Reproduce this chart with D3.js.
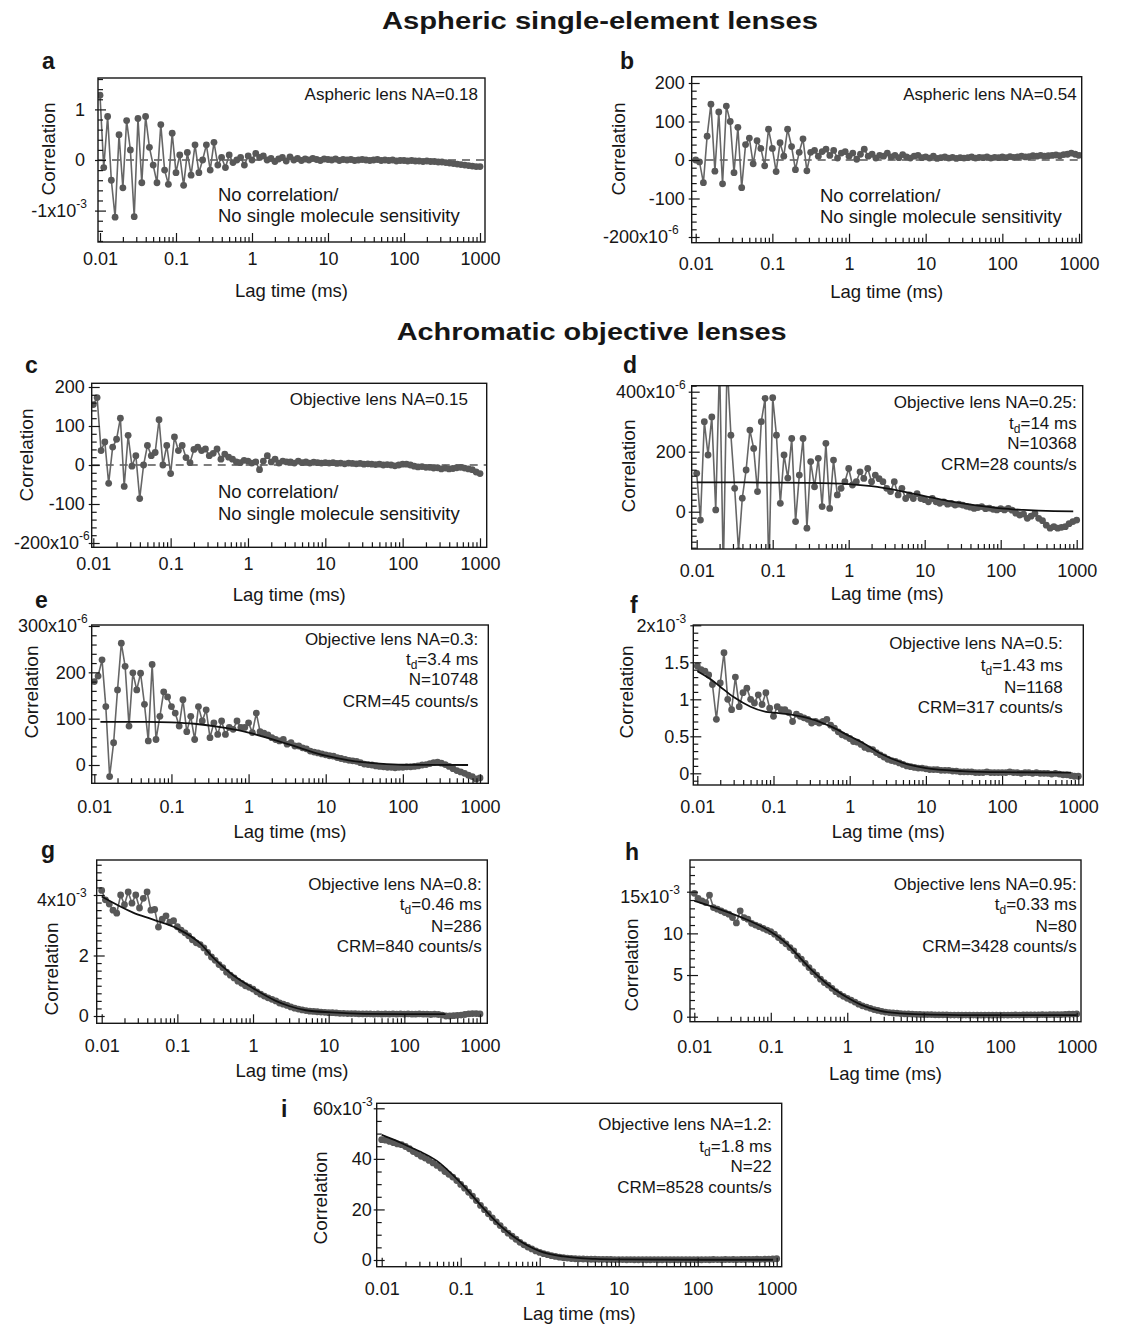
<!DOCTYPE html>
<html>
<head>
<meta charset="utf-8">
<script src="https://cdn.jsdelivr.net/npm/d3@7"></script>
<style>
  body { margin: 0; background: #fff; }
  svg text { font-family: "Liberation Sans", Arial, Helvetica, sans-serif; }
</style>
</head>
<body>
<svg id="fig" width="1144" height="1327"></svg>
<script>
// Lag times (ms) shared by all correlation curves
const LAGS = [
  0.01, 0.0112, 0.0126, 0.0141, 0.0158, 0.0178, 0.02, 0.0224, 0.0251, 0.0282,
  0.0316, 0.0355, 0.0398, 0.0447, 0.0501, 0.0562, 0.0631, 0.0708, 0.0794, 0.0891,
  0.1, 0.112, 0.126, 0.141, 0.158, 0.178, 0.2, 0.224, 0.251, 0.282,
  0.316, 0.355, 0.398, 0.447, 0.501, 0.562, 0.631, 0.708, 0.794, 0.891,
  1, 1.12, 1.26, 1.41, 1.58, 1.78, 2, 2.24, 2.51, 2.82,
  3.16, 3.55, 3.98, 4.47, 5.01, 5.62, 6.31, 7.08, 7.94, 8.91,
  10, 11.2, 12.6, 14.1, 15.8, 17.8, 20, 22.4, 25.1, 28.2,
  31.6, 35.5, 39.8, 44.7, 50.1, 56.2, 63.1, 70.8, 79.4, 89.1,
  100, 112, 126, 141, 158, 178, 200, 224, 251, 282,
  316, 355, 398, 447, 501, 562, 631, 708, 794, 891,
  1000
];

// a: aspheric NA=0.18 (x1e-3)
const corrA = [
  1.28, -0.15, 0.86, -0.4, -1.13, 0.5, -0.55, 0.78, 0.2, -1.12,
  0.82, -0.45, 0.86, 0.25, -0.1, -0.45, 0.7, -0.2, -0.48, 0.53,
  -0.25, 0.1, -0.5, 0.15, -0.3, 0.3, -0.25, 0.0, 0.3, -0.2,
  0.35, -0.1, 0.05, -0.15, 0.1, -0.05, 0.0, 0.05, -0.1, 0.08,
  0.0, 0.13, 0.05, 0.08, 0.0, 0.03, -0.03, 0.02, 0.05, -0.02,
  0.06, 0.0, 0.03, -0.01, 0.02, 0.0, 0.03, 0.01, -0.01, 0.02,
  0.01, 0.0, 0.02, -0.01, 0.01, 0.0, 0.01, -0.01, 0.0, 0.01,
  0.0, -0.01, 0.0, 0.01, -0.01, 0.0, -0.01, 0.0, -0.02, -0.01,
  -0.01, -0.02, -0.01, -0.02, -0.02, -0.03, -0.02, -0.03, -0.03, -0.04,
  -0.04, -0.05, -0.06, -0.07, -0.08, -0.09, -0.1, -0.11, -0.12, -0.13,
  -0.13
];

// b: aspheric NA=0.54 (x1e-6)
const corrB = [
  0, -5, -59, 62, 145, -29, 125, -62, 140, 100,
  -33, 85, -72, 40, 57, -10, 50, 30, -15, 80,
  30, -30, 45, 10, 80, 35, -25, 20, 55, -28,
  20, 25, 10, 22, 28, 12, 25, 5, 18, 22,
  10, 18, 2, 15, 28, 10, 15, 5, 12, 10,
  18, 8, 12, 6, 14, 8, 5, 10, 12, 6,
  8, 5, 10, 4, 6, 8, 5, 7, 4, 6,
  5, 6, 8, 5, 7, 6, 8, 5, 7, 6,
  8, 6, 9, 7, 8, 10, 8, 9, 11, 10,
  12, 10, 11, 12, 13, 11, 14, 15, 18, 15,
  12
];

// c: objective NA=0.15 (x1e-6)
const corrC = [
  155, 173, 37, 59, -47, 46, 66, 120, -55, 76,
  -3, 24, -86, 0, 50, 24, 32, 116, 0, 50,
  -22, 72, 37, 50, 19, 6, 40, 46, 37, 41,
  24, 30, 41, 15, 28, 20, 15, 8, 6, 12,
  10, 5, 8, -12, 10, 24, 8, 15, 5, 10,
  8, 8, 5, 10, 6, 8, 5, 7, 6, 5,
  6, 5, 6, 4, 5, 3, 5, 4, 3, 4,
  2, 3, 2, 1, 2, 0, 1, 0, -2, 0,
  2, 2, 0, -3, -5, -4, -6, -6, -8, -7,
  -10, -8, -10, -9, -7, -6, -8, -10, -12, -18,
  -22
];

// d: objective NA=0.25 (x1e-6)
const corrD = [
  128, -28, 300, 189, 316, 6, 500, -200, 500, 255,
  78, -130, 45, 139, 272, 211, 67, 300, 378, -200,
  380, 255, 28, 189, 112, 244, -33, 122, 244, -55,
  167, 83, 178, 17, 228, 11, 172, 56, 78, 100,
  144, 89, 100, 133, 111, 144, 100, 122, 110, 100,
  78, 67, 100, 56, 78, 44, 56, 44, 60, 44,
  40, 33, 44, 33, 28, 33, 25, 28, 22, 25,
  22, 18, 15, 11, 14, 17, 10, 12, 8, 6,
  10, 6, 11, 5, -5, -11, -8, -22, -15, -6,
  -22, -30, -45, -55, -50, -55, -52, -50, -40, -33,
  -28
];
const fitDLag = [0.01, 0.1, 0.3, 1, 2, 5, 10, 20, 50, 100, 200, 500, 900];
const fitDVal = [98, 97, 96, 92, 85, 68, 52, 36, 20, 11, 6, 2, 1];

// e: objective NA=0.3 (x1e-6)
const corrE = [
  180, 192, 227, 126, -25, 48, 162, 263, 213, 84,
  199, 162, 198, 131, 52, 217, 55, 105, 158, 147,
  126, 112, 84, 141, 72, 105, 55, 126, 95, 119,
  59, 91, 66, 95, 66, 81, 77, 95, 81, 81,
  91, 70, 112, 72, 69, 65, 59, 55, 52, 55,
  45, 48, 41, 41, 37, 35, 30, 28, 26, 24,
  22, 20, 19, 16, 14, 12, 10, 9, 8, 5,
  2, 1, 0, -2, -3, -4, -5, -5, -6, -5,
  -5, -4, -4, -3, -2, 0, 1, 3, 5, 6,
  4, 1, -3, -8, -12, -15, -18, -22, -25, -30,
  -28
];
const fitELag = [0.012, 0.05, 0.1, 0.2, 0.5, 1, 2, 5, 10, 20, 50, 100, 700];
const fitEVal = [93, 93, 92, 89, 80, 70, 56, 35, 20, 10, 3, 0.5, 0];

// f: objective NA=0.5 (x1e-3)
const corrF = [
  1.45, 1.40, 1.38, 1.33, 1.2, 0.73, 1.22, 1.63, 1.0, 0.86,
  1.3, 0.9, 1.09, 1.15, 1.0, 0.95, 1.06, 0.93, 1.09, 0.88,
  0.77, 0.9, 0.86, 0.86, 0.82, 0.7, 0.8, 0.77, 0.75, 0.73,
  0.68, 0.7, 0.68, 0.7, 0.73, 0.65, 0.61, 0.56, 0.52, 0.5,
  0.47, 0.43, 0.42, 0.39, 0.35, 0.33, 0.32, 0.28, 0.25, 0.22,
  0.19, 0.17, 0.16, 0.14, 0.12, 0.1, 0.09, 0.08, 0.07, 0.07,
  0.06, 0.05, 0.05, 0.05, 0.04, 0.04, 0.04, 0.03, 0.03, 0.02,
  0.02, 0.02, 0.02, 0.01, 0.01, 0.01, 0.02, 0.01, 0.01, 0.01,
  0.01, 0.01, 0.02, 0.01, 0.01, 0.0, 0.01, 0.01, 0.0, 0.01,
  0.0, 0.0, 0.0, -0.01, 0.0, -0.01, -0.02, -0.02, -0.03, -0.04,
  -0.04
];
const fitFLag = [0.01, 0.015, 0.02, 0.03, 0.05, 0.08, 0.1, 0.2, 0.3, 0.6, 1, 1.5, 2.5, 5, 10, 30, 100, 800];
const fitFVal = [1.38, 1.27, 1.17, 1.03, 0.9, 0.83, 0.82, 0.78, 0.74, 0.62, 0.5, 0.41, 0.27, 0.14, 0.07, 0.03, 0.015, 0.01];

// g: objective NA=0.8 (x1e-3)
const corrG = [
  4.15, 3.84, 3.7, 3.5, 3.4, 4.0, 3.68, 4.1, 3.73, 4.0,
  3.57, 3.89, 4.1, 3.5, 3.52, 2.94, 3.2, 3.31, 3.1, 3.15,
  2.95, 2.84, 2.75, 2.65, 2.52, 2.42, 2.36, 2.25, 2.1, 1.95,
  1.84, 1.7, 1.6, 1.45, 1.35, 1.26, 1.15, 1.08, 1.0, 0.95,
  0.89, 0.8, 0.72, 0.66, 0.6, 0.55, 0.5, 0.43, 0.39, 0.35,
  0.3, 0.26, 0.23, 0.2, 0.18, 0.16, 0.15, 0.14, 0.13, 0.12,
  0.11, 0.11, 0.1, 0.09, 0.09, 0.08, 0.08, 0.08, 0.07, 0.07,
  0.07, 0.07, 0.06, 0.07, 0.06, 0.07, 0.06, 0.07, 0.06, 0.07,
  0.06, 0.07, 0.06, 0.06, 0.07, 0.06, 0.06, 0.05, 0.06, 0.05,
  0.03, 0.0, 0.0, 0.01, 0.02, 0.03, 0.05, 0.07, 0.08, 0.08,
  0.07
];
const fitGLag = [0.01, 0.026, 0.046, 0.1, 0.2, 0.3, 0.5, 1, 2, 3, 5, 11, 30, 100, 350];
const fitGVal = [3.95, 3.42, 3.2, 2.89, 2.4, 1.92, 1.42, 0.92, 0.5, 0.33, 0.19, 0.12, 0.07, 0.06, 0.06];

// h: objective NA=0.95 (x1e-3)
const corrH = [
  14.8, 14.2, 13.9, 13.7, 14.6, 13.1, 12.9, 12.7, 12.5, 12.3,
  11.9, 11.25, 12.7, 11.9, 11.7, 11.2, 11.0, 10.8, 10.6, 10.4,
  10.2, 9.9, 9.5, 9.1, 8.75, 8.3, 7.9, 7.3, 6.9, 6.4,
  5.9, 5.4, 5.0, 4.5, 4.1, 3.8, 3.4, 3.0, 2.7, 2.45,
  2.2, 2.0, 1.75, 1.5, 1.3, 1.15, 1.0, 0.85, 0.75, 0.65,
  0.55, 0.5, 0.45, 0.42, 0.38, 0.35, 0.33, 0.3, 0.28, 0.27,
  0.26, 0.25, 0.24, 0.23, 0.22, 0.22, 0.21, 0.2, 0.2, 0.2,
  0.19, 0.2, 0.19, 0.2, 0.18, 0.19, 0.2, 0.19, 0.18, 0.2,
  0.19, 0.2, 0.19, 0.2, 0.21, 0.2, 0.22, 0.21, 0.22, 0.23,
  0.22, 0.24, 0.23, 0.25, 0.24, 0.26, 0.25, 0.28, 0.3, 0.32,
  0.33
];
const fitHLag = [0.01, 0.02, 0.05, 0.1, 0.16, 0.24, 0.36, 0.54, 1, 1.5, 2.7, 5, 10, 30, 100, 1000];
const fitHVal = [13.9, 13.0, 11.6, 10.2, 8.8, 7.1, 5.4, 3.95, 2.3, 1.45, 0.7, 0.4, 0.27, 0.2, 0.18, 0.18];

// i: objective NA=1.2 (x1e-3)
const corrI = [
  47.6, 47.4, 46.9, 46.4, 45.9, 45.6, 44.9, 44.0, 42.9, 42.0,
  41.0, 40.3, 39.4, 38.4, 37.4, 36.3, 35.0, 33.9, 32.8, 31.4,
  29.9, 28.4, 26.8, 25.3, 23.5, 21.6, 19.9, 18.3, 16.7, 15.1,
  13.6, 12.0, 10.6, 9.4, 8.2, 7.0, 6.0, 5.1, 4.4, 3.6,
  3.0, 2.5, 2.1, 1.7, 1.4, 1.1, 0.9, 0.75, 0.6, 0.5,
  0.45, 0.4, 0.35, 0.3, 0.3, 0.25, 0.25, 0.2, 0.2, 0.15,
  0.15, 0.15, 0.1, 0.15, 0.1, 0.1, 0.15, 0.1, 0.1, 0.15,
  0.1, 0.1, 0.15, 0.1, 0.1, 0.1, 0.15, 0.1, 0.1, 0.15,
  0.1, 0.1, 0.15, 0.1, 0.2, 0.15, 0.1, 0.2, 0.15, 0.2,
  0.15, 0.2, 0.2, 0.25, 0.2, 0.3, 0.25, 0.3, 0.35, 0.4,
  0.5
];
const fitILag = [0.01, 0.015, 0.02, 0.03, 0.05, 0.1, 0.2, 0.3, 0.5, 1, 2, 3, 5, 10, 100, 900];
const fitIVal = [49.5, 47.3, 45.5, 43, 39.2, 30.5, 20, 14.3, 8.6, 3.5, 1.4, 0.8, 0.45, 0.25, 0.1, 0.1];

const xDecades = [0.01, 0.1, 1, 10, 100, 1000];
const NO_CORR = ['No correlation/', 'No single molecule sensitivity'];

// panel layout (pixel frames, tick positions, text placement)
const panels = [
  { letter: 'a', corr: corrA, zero: true,
    frame: [98, 78, 485, 242], xPx: [100, 480], yRef: [[-1, 210.6], [1, 109.4]],
    yMajor: [-1, 0, 1], yMinor: 0.2, expTick: -1, expText: ['-1x10', '-3'], gapN: 13, gapE: 11,
    xTickDy: 23, xTitleDy: 55, yTitle: [55, 149], lpos: [42, 69],
    note: { x: 478, y: [100], lines: ['Aspheric lens NA=0.18'] }, noCorr: { x: 218, y: [201, 222] } },
  { letter: 'b', corr: corrB, zero: true,
    frame: [691.7, 76.7, 1081.7, 242.7], xPx: [695.7, 1079], yRef: [[-200, 237], [200, 83]],
    yMajor: [-200, -100, 0, 100, 200], yMinor: 20, expTick: -200, expText: ['-200x10', '-6'], gapN: 7, gapE: 13,
    xTickDy: 27, xTitleDy: 55, yTitle: [625, 149], lpos: [620, 69],
    note: { x: 1076.7, y: [100], lines: ['Aspheric lens NA=0.54'] }, noCorr: { x: 820, y: [201.7, 223] } },
  { letter: 'c', corr: corrC, zero: true,
    frame: [91.7, 383.3, 486.7, 547.3], xPx: [93.3, 480], yRef: [[-200, 543], [200, 387]],
    yMajor: [-200, -100, 0, 100, 200], yMinor: 20, expTick: -200, expText: ['-200x10', '-6'], gapN: 7, gapE: 2,
    xTickDy: 23, xTitleDy: 54, yTitle: [33, 455], lpos: [25, 373],
    note: { x: 468, y: [405], lines: ['Objective lens NA=0.15'] }, noCorr: { x: 218, y: [498, 520] } },
  { letter: 'd', corr: corrD, fitLag: fitDLag, fitVal: fitDVal,
    frame: [691.7, 385.7, 1082.7, 549], xPx: [696.7, 1076.7], yRef: [[0, 511.7], [400, 391.7]],
    yMajor: [0, 200, 400], yMinor: 20, expTick: 400, expText: ['400x10', '-6'], gapN: 6, gapE: 6,
    xTickDy: 28, xTitleDy: 51, yTitle: [635, 466], lpos: [623, 373],
    note: { x: 1076.7, y: [407.7, 429, 449, 470], lines: ['Objective lens NA=0.25:', 't_d=14 ms', 'N=10368', 'CRM=28 counts/s'] } },
  { letter: 'e', corr: corrE, fitLag: fitELag, fitVal: fitEVal,
    frame: [91.7, 625, 488.3, 783.3], xPx: [94.3, 480], yRef: [[0, 765], [300, 626]],
    yMajor: [0, 100, 200, 300], yMinor: 20, expTick: 300, expText: ['300x10', '-6'], gapN: 6, gapE: 4,
    xTickDy: 30, xTitleDy: 55, yTitle: [38, 692], lpos: [35, 608],
    note: { x: 478.3, y: [645, 665, 685, 706.7], lines: ['Objective lens NA=0.3:', 't_d=3.4 ms', 'N=10748', 'CRM=45 counts/s'] } },
  { letter: 'f', corr: corrF, fitLag: fitFLag, fitVal: fitFVal,
    frame: [693.3, 625, 1083.3, 785], xPx: [697.3, 1078.3], yRef: [[0, 773.3], [2, 625.3]],
    yMajor: [0, 0.5, 1, 1.5, 2], yMinor: 0.1, expTick: 2, expText: ['2x10', '-3'], gapN: 4, gapE: 7,
    xTickDy: 28, xTitleDy: 53, yTitle: [633, 692], lpos: [630, 613],
    note: { x: 1062.7, y: [648.7, 670.7, 692.7, 712.7], lines: ['Objective lens NA=0.5:', 't_d=1.43 ms', 'N=1168', 'CRM=317 counts/s'] } },
  { letter: 'g', corr: corrG, fitLag: fitGLag, fitVal: fitGVal,
    frame: [96.7, 860, 487.3, 1023.3], xPx: [101.7, 480], yRef: [[0, 1016], [4, 895]],
    yMajor: [0, 2, 4], yMinor: 0.25, expTick: 4, expText: ['4x10', '-3'], expDy: 5, gapN: 8, gapE: 10,
    xTickDy: 29, xTitleDy: 54, yTitle: [58, 969], lpos: [41, 858],
    note: { x: 481.7, y: [890, 910, 931.7, 951.7], lines: ['Objective lens NA=0.8:', 't_d=0.46 ms', 'N=286', 'CRM=840 counts/s'] } },
  { letter: 'h', corr: corrH, fitLag: fitHLag, fitVal: fitHVal,
    frame: [690, 860, 1081, 1021.7], xPx: [694.3, 1076.7], yRef: [[0, 1016.7], [15, 891.7]],
    yMajor: [0, 5, 10, 15], yMinor: 1, expTick: 15, expText: ['15x10', '-3'], expDy: 5, gapN: 7, gapE: 10,
    xTickDy: 31, xTitleDy: 58, yTitle: [638, 965], lpos: [625, 860],
    note: { x: 1076.7, y: [890, 910, 931.7, 951.7], lines: ['Objective lens NA=0.95:', 't_d=0.33 ms', 'N=80', 'CRM=3428 counts/s'] } },
  { letter: 'i', corr: corrI, fitLag: fitILag, fitVal: fitIVal,
    frame: [376.7, 1103.3, 781.7, 1266.7], xPx: [381.7, 776.7], yRef: [[0, 1260], [60, 1108.3]],
    yMajor: [0, 20, 40, 60], yMinor: 5, expTick: 60, expText: ['60x10', '-3'], gapN: 5, gapE: 4,
    xTickDy: 28, xTitleDy: 53, yTitle: [327, 1198], lpos: [281, 1117],
    note: { x: 771.7, y: [1130, 1151.7, 1172, 1193], lines: ['Objective lens NA=1.2:', 't_d=1.8 ms', 'N=22', 'CRM=8528 counts/s'] } }
];

const svg = d3.select('#fig');
const defs = svg.append('defs');
const INK = '#161616';

// section titles
svg.append('text').attr('x', 600).attr('y', 29).attr('text-anchor', 'middle')
  .attr('font-size', 23).attr('font-weight', 700).attr('fill', INK)
  .attr('textLength', 436).attr('lengthAdjust', 'spacingAndGlyphs')
  .text('Aspheric single-element lenses');
svg.append('text').attr('x', 591.7).attr('y', 340).attr('text-anchor', 'middle')
  .attr('font-size', 23).attr('font-weight', 700).attr('fill', INK)
  .attr('textLength', 390).attr('lengthAdjust', 'spacingAndGlyphs')
  .text('Achromatic objective lenses');

panels.forEach(drawPanel);

function drawPanel(p) {
  const [fx0, fy0, fx1, fy1] = p.frame;
  const x = d3.scaleLog().domain([0.01, 1000]).range(p.xPx);
  const y = d3.scaleLinear().domain([p.yRef[0][0], p.yRef[1][0]]).range([p.yRef[0][1], p.yRef[1][1]]);
  const g = svg.append('g');

  const clipId = 'clip-' + p.letter;
  defs.append('clipPath').attr('id', clipId).append('rect')
    .attr('x', fx0).attr('y', fy0).attr('width', fx1 - fx0).attr('height', fy1 - fy0);

  const plot = g.append('g').attr('clip-path', `url(#${clipId})`);

  // dashed zero reference
  if (p.zero) {
    plot.append('line')
      .attr('x1', fx0).attr('x2', fx1).attr('y1', y(0)).attr('y2', y(0))
      .attr('stroke', '#555').attr('stroke-width', 1.3).attr('stroke-dasharray', '8,6');
  }

  // measured correlation
  const pts = d3.zip(LAGS, p.corr);
  plot.append('path').datum(pts)
    .attr('d', d3.line().x(d => x(d[0])).y(d => y(d[1])))
    .attr('fill', 'none').attr('stroke', '#666').attr('stroke-width', 1.6);
  plot.selectAll('circle').data(pts).join('circle')
    .attr('cx', d => x(d[0])).attr('cy', d => y(d[1])).attr('r', 3.4)
    .attr('fill', '#585858');

  // fit
  if (p.fitLag) {
    plot.append('path').datum(d3.zip(p.fitLag, p.fitVal))
      .attr('d', d3.line().curve(d3.curveMonotoneX).x(d => x(d[0])).y(d => y(d[1])))
      .attr('fill', 'none').attr('stroke', '#111').attr('stroke-width', 1.8);
  }

  // frame
  g.append('rect').attr('x', fx0).attr('y', fy0).attr('width', fx1 - fx0).attr('height', fy1 - fy0)
    .attr('fill', 'none').attr('stroke', INK).attr('stroke-width', 1.4);

  const styleAxis = sel => sel.attr('color', INK).attr('font-family', null).attr('font-size', 18)
    .call(s => s.select('.domain').remove())
    .call(s => s.selectAll('line').attr('stroke-width', 1.2));

  // x axis: decades + minor ticks inside the frame
  const xMinor = [];
  [-3, -2, -1, 0, 1, 2, 3].forEach(e => {
    for (let m = 2; m <= 9; m++) {
      const v = +(m * Math.pow(10, e)).toPrecision(3);
      if (x(v) > fx0 + 2 && x(v) < fx1 - 1) xMinor.push(v);
    }
  });
  g.append('g').attr('transform', `translate(0,${fy1})`)
    .call(d3.axisBottom(x).tickValues(xMinor).tickSize(-5).tickFormat(''))
    .call(styleAxis);
  const xa = g.append('g').attr('transform', `translate(0,${fy1})`)
    .call(d3.axisBottom(x).tickValues(xDecades).tickSize(-9).tickFormat(d3.format('~g')))
    .call(styleAxis);
  xa.selectAll('text').attr('y', p.xTickDy).attr('dy', null);

  // y axis
  const yLo = y.invert(fy1), yHi = y.invert(fy0);
  const yMinor = [];
  for (let k = Math.ceil(yLo / p.yMinor); k * p.yMinor <= yHi; k++) {
    const v = Math.round(k * p.yMinor * 1000) / 1000;
    if (!p.yMajor.includes(v)) yMinor.push(v);
  }
  g.append('g').attr('transform', `translate(${fx0},0)`)
    .call(d3.axisLeft(y).tickValues(yMinor).tickSize(-5).tickFormat(''))
    .call(styleAxis);
  g.append('g').attr('transform', `translate(${fx0},0)`)
    .call(d3.axisLeft(y).tickValues(p.yMajor).tickSize(3).tickFormat(''))
    .call(styleAxis);
  const ya = g.append('g').attr('transform', `translate(${fx0},0)`)
    .call(d3.axisLeft(y).tickValues(p.yMajor).tickSize(-8).tickPadding(p.gapN)
      .tickFormat(d => d === p.expTick ? p.expText[0] : String(d)))
    .call(styleAxis);
  ya.selectAll('.tick').filter(d => d === p.expTick).select('text')
    .attr('x', -p.gapE).attr('y', p.expDy || 0)
    .append('tspan').attr('font-size', 12).attr('dy', -9).text(p.expText[1]);

  // axis titles
  g.append('text').attr('x', (fx0 + fx1) / 2).attr('y', fy1 + p.xTitleDy)
    .attr('text-anchor', 'middle').attr('font-size', 18.5).attr('fill', INK)
    .text('Lag time (ms)');
  g.append('text').attr('transform', `translate(${p.yTitle[0]},${p.yTitle[1]}) rotate(-90)`)
    .attr('text-anchor', 'middle').attr('font-size', 19).attr('fill', INK)
    .text('Correlation');

  // panel letter
  g.append('text').attr('x', p.lpos[0]).attr('y', p.lpos[1])
    .attr('font-size', 23).attr('font-weight', 700).attr('fill', INK).text(p.letter);

  // annotations
  p.note.lines.forEach((line, i) => {
    const t = g.append('text').attr('x', p.note.x).attr('y', p.note.y[i])
      .attr('text-anchor', 'end').attr('font-size', 17).attr('fill', INK);
    if (line.startsWith('t_d')) {
      t.append('tspan').text('t');
      t.append('tspan').attr('font-size', 12).attr('dy', 4).text('d');
      t.append('tspan').attr('dy', -4).text(line.slice(3));
    } else {
      t.text(line);
    }
  });
  if (p.noCorr) {
    NO_CORR.forEach((line, i) => {
      g.append('text').attr('x', p.noCorr.x).attr('y', p.noCorr.y[i])
        .attr('font-size', 18.5).attr('fill', INK).text(line);
    });
  }
}
</script>
</body>
</html>
